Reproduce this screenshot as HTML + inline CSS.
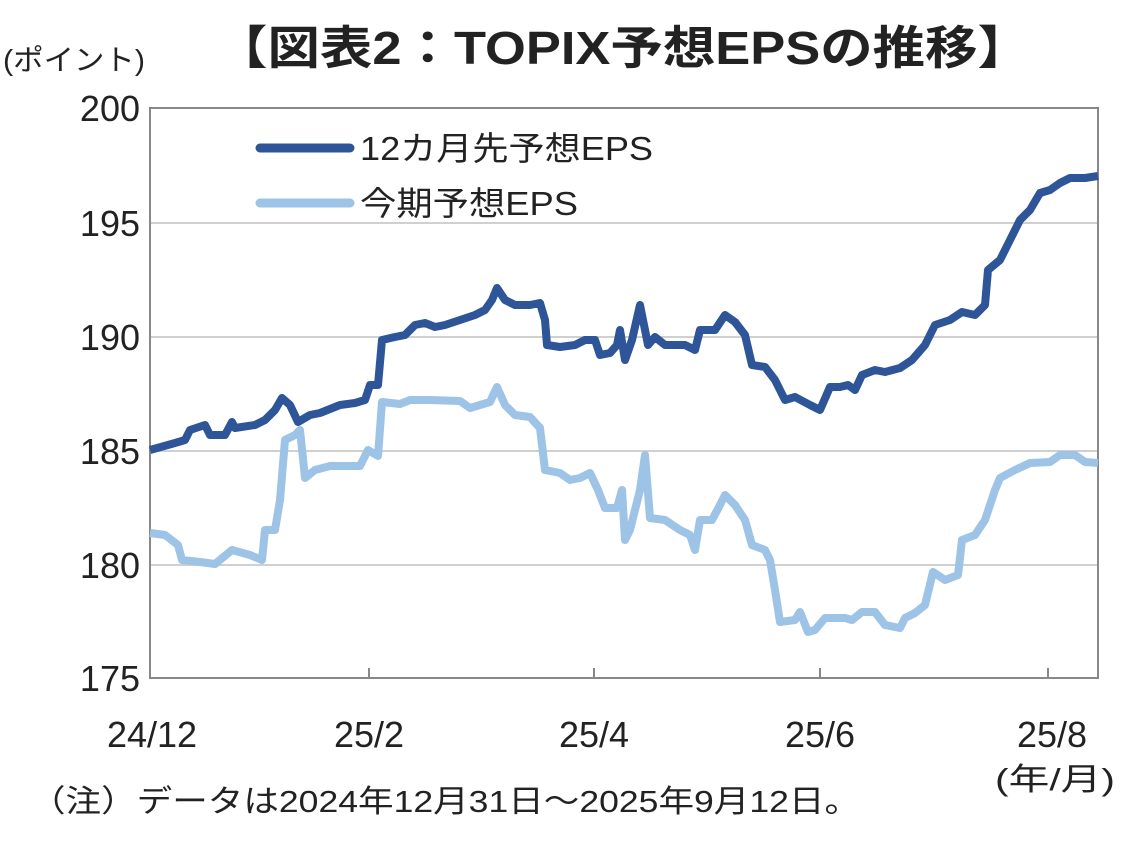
<!DOCTYPE html>
<html><head><meta charset="utf-8"><style>
body{margin:0;background:#fff;width:1122px;height:841px;overflow:hidden;font-family:"Liberation Sans","Noto Sans CJK JP",sans-serif;}
svg text{font-family:"Liberation Sans","Noto Sans CJK JP",sans-serif;fill:#222;}
</style></head><body>
<svg width="1122" height="841" viewBox="0 0 1122 841">
<text x="215" y="64" font-size="46" font-weight="bold" textLength="815" lengthAdjust="spacingAndGlyphs">【図表2：TOPIX予想EPSの推移】</text>
<text x="3" y="70" font-size="29" textLength="142" lengthAdjust="spacingAndGlyphs">(ポイント)</text>
<g stroke="#d0d0d0" stroke-width="2">
<line x1="150" y1="223" x2="1098" y2="223"/><line x1="150" y1="337" x2="1098" y2="337"/>
<line x1="150" y1="451" x2="1098" y2="451"/><line x1="150" y1="565" x2="1098" y2="565"/>
</g>
<rect x="150" y="108" width="948" height="570" fill="none" stroke="#888" stroke-width="2"/>
<g stroke="#888" stroke-width="2">
<line x1="369" y1="668" x2="369" y2="678"/><line x1="594" y1="668" x2="594" y2="678"/>
<line x1="820" y1="668" x2="820" y2="678"/><line x1="1048" y1="668" x2="1048" y2="678"/>
</g>
<g font-size="36" text-anchor="end">
<text x="140" y="121">200</text><text x="140" y="236">195</text><text x="140" y="350">190</text>
<text x="140" y="464">185</text><text x="140" y="578">180</text><text x="140" y="691">175</text>
</g>
<g font-size="36" text-anchor="middle">
<text x="152" y="747">24/12</text><text x="369" y="747">25/2</text><text x="594" y="747">25/4</text>
<text x="820" y="747">25/6</text><text x="1052" y="747">25/8</text>
</g>
<text x="995" y="790" font-size="31" textLength="120" lengthAdjust="spacingAndGlyphs">(年/月)</text>
<text x="30" y="812" font-size="31" textLength="830" lengthAdjust="spacingAndGlyphs">（注）データは2024年12月31日～2025年9月12日。</text>
<polyline fill="none" stroke="#9dc3e6" stroke-width="8" stroke-linejoin="round" points="150,533 165,535 178,545 182,560 200,562 215,564 232,550 250,555 262,560 265,530 275,530 280,500 285,440 295,435 300,430 305,478 315,470 330,466 360,466 368,450 378,456 382,402 400,404 410,400 430,400 460,401 470,408 490,402 497,387 505,405 515,415 530,417 540,428 545,470 560,473 570,480 580,478 590,473 598,490 605,508 617,508 622,490 625,540 630,530 640,490 645,455 650,518 665,520 680,530 690,535 695,550 700,520 712,520 720,505 725,495 735,505 745,520 752,545 765,550 770,560 775,590 780,622 795,620 800,612 808,632 815,630 825,618 845,618 852,620 862,612 875,612 885,625 900,628 905,618 915,613 925,605 933,572 945,580 958,575 962,540 975,535 985,520 995,490 1000,478 1015,470 1030,463 1050,462 1060,455 1075,455 1085,462 1098,463"/>
<polyline fill="none" stroke="#2e5597" stroke-width="8" stroke-linejoin="round" points="150,450 175,443 185,440 190,430 205,425 210,435 225,435 232,422 235,428 255,425 265,420 275,410 282,398 290,405 298,422 310,415 320,413 340,405 355,403 365,400 370,385 378,385 382,340 395,337 405,335 415,325 425,323 435,327 445,325 460,320 475,315 485,310 492,300 497,288 505,300 515,305 530,305 540,303 545,320 547,345 560,347 575,345 585,340 595,340 600,355 610,353 617,345 620,330 625,360 632,340 640,305 648,345 655,337 665,345 685,345 695,350 700,330 715,330 725,315 735,322 745,335 752,365 765,367 775,380 785,400 795,397 810,405 820,410 830,387 840,387 848,385 855,390 862,375 875,370 885,372 900,368 912,360 925,345 935,325 950,320 962,312 975,315 985,305 988,270 1000,260 1010,240 1020,220 1030,210 1040,193 1050,190 1060,183 1070,178 1085,178 1098,176"/>
<line x1="260" y1="148" x2="350" y2="148" stroke="#2e5597" stroke-width="9" stroke-linecap="round"/>
<line x1="260" y1="203" x2="350" y2="203" stroke="#9dc3e6" stroke-width="9" stroke-linecap="round"/>
<text x="360" y="160" font-size="33" textLength="293" lengthAdjust="spacingAndGlyphs">12カ月先予想EPS</text>
<text x="360" y="215" font-size="33" textLength="218" lengthAdjust="spacingAndGlyphs">今期予想EPS</text>
</svg>
</body></html>
